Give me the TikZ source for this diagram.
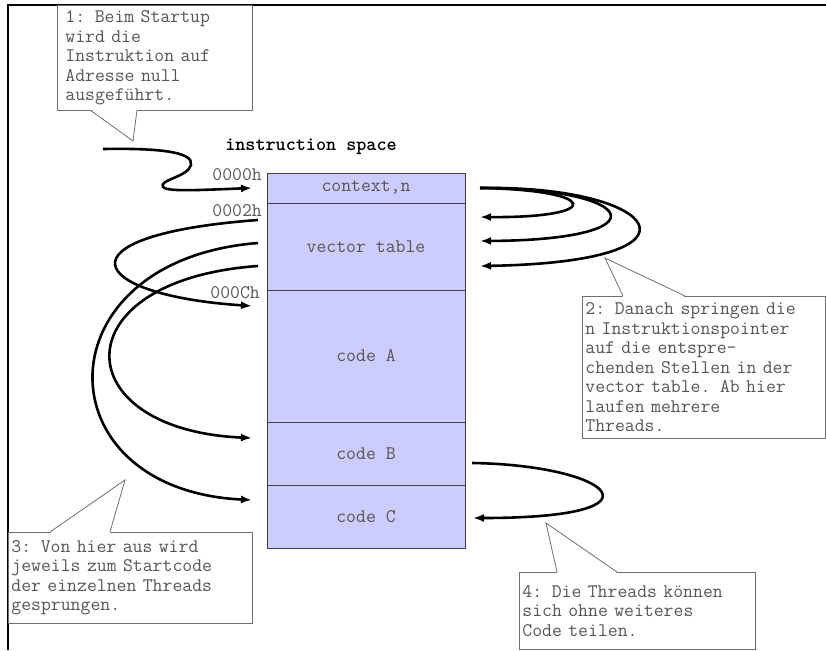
\documentclass[tikz,border=0pt]{standalone}
\usepackage{fontspec}
\usepackage{xcolor}
\definecolor{memlavender}{RGB}{204,204,255}
\definecolor{memtext}{RGB}{85,85,85}
\definecolor{memframe}{RGB}{110,110,110}
\usepackage{tikz}
\usetikzlibrary{arrows.meta, positioning, calc}

\newcommand{\memfont}{\ttfamily\fontsize{19.2}{19.5}\selectfont}
\tikzset{
  memcell/.style={draw=black!75, fill=memlavender, minimum width=198pt, inner sep=0pt, outer sep=0pt,
    text=memtext, font=\memfont},
  addr/.style={anchor=base east, inner sep=0pt, text=memtext, font=\memfont},
  note/.style={draw=memframe, line width=0.8pt, fill=white, align=left, anchor=north west, inner ysep=0pt,
    inner xsep=3pt, text=memtext, font=\memfont},
  pointer/.style={draw=memframe, line width=0.8pt},
  jump/.style={line width=2.6pt, -{Latex[length=11pt,width=8pt]}},
}

\begin{document}
\begin{tikzpicture}[x=1pt, y=-1pt]
  \useasboundingbox (0,0) rectangle (826,650);
  \draw[line width=1.2pt] (8,650) -- (8,5) -- (826,5);

  % instruction space
  \node[font=\memfont\bfseries] (title) at (311,147) {instruction space};
  \node[memcell, minimum height=30pt, anchor=north west] (ctx) at (267,173) {context,n};
  \node[memcell, minimum height=87pt, below=0pt of ctx] (vec) {vector table};
  \node[memcell, minimum height=132pt, below=0pt of vec] (codeA) {code A};
  \node[memcell, minimum height=63pt, below=0pt of codeA] (codeB) {code B};
  \node[memcell, minimum height=63pt, below=0pt of codeB] (codeC) {code C};

  \node[addr] (adr0) at (262,180) {0000h};
  \node[addr] (adr2) at (262,216) {0002h};
  \node[addr] (adrC) at (260,298) {000Ch};

  % notes
  \node[note, text width=179pt, inner xsep=8pt, minimum height=105pt] (note1) at (57,5)
    {1: Beim Startup\\wird die\\Instruktion auf\\Adresse null\\ausgeführt.};
  \node[note, text width=237pt, minimum height=142pt] (note2) at (582,296)
    {2: Danach springen die\\n Instruktionspointer\\auf die entspre-\\chenden Stellen in der\\vector table. Ab hier\\laufen mehrere\\Threads.};
  \node[note, text width=238pt, minimum height=91pt] (note3) at (8,532)
    {3: Von hier aus wird\\jeweils zum Startcode\\der einzelnen Threads\\gesprungen.};
  \node[note, text width=230pt, minimum height=77pt] (note4) at (519,572)
    {4: Die Threads können\\sich ohne weiteres\\Code teilen.};

  \coordinate (n1a) at (90,110);  \coordinate (n1b) at (137,110); \coordinate (n1tip) at (133,141);
  \coordinate (n2a) at (623,296); \coordinate (n2b) at (685,296); \coordinate (n2tip) at (605,258);
  \coordinate (n3a) at (50,532);  \coordinate (n3b) at (110,532); \coordinate (n3tip) at (125,480);
  \coordinate (n4a) at (557,572); \coordinate (n4b) at (617,572); \coordinate (n4tip) at (546,523);

  \fill[white] ($(n1a)+(0,-1)$) -- (n1tip) -- ($(n1b)+(0,-1)$) -- cycle;
  \draw[pointer] (n1a) -- (n1tip) -- (n1b);
  \foreach \n in {2,3,4} {
    \fill[white] ($(n\n a)+(0,1)$) -- (n\n tip) -- ($(n\n b)+(0,1)$) -- cycle;
    \draw[pointer] (n\n a) -- (n\n tip) -- (n\n b);
  }

  % jumps
  \coordinate (start) at (103,149);
  \draw[jump] (start) .. controls (160,148) and (194,152) .. (191,165)
    .. controls (188,177) and (158,180) .. (163,187)
    .. controls (167,192) and (200,190) .. ([xshift=-15pt]ctx.west);

  \coordinate (r0) at ($(ctx.east)+(15,0)$);
  \draw[jump] (r0) .. controls (600,190) and (605,218) .. ($(vec.east)+(15,-29.5)$);
  \draw[jump] (r0) .. controls (640,188) and (665,240) .. ($(vec.east)+(15,-5.5)$);
  \draw[jump] (r0) .. controls (660,185) and (720,262) .. ($(vec.east)+(15,19.5)$);

  \draw[jump] ($(vec.west)+(-9,-26.5)$) .. controls (55,235) and (85,295) .. ($(codeA.west)+(-15,-50)$);
  \draw[jump] ($(vec.west)+(-9,-3.5)$) .. controls (40,260) and (40,490) .. ($(codeC.west)+(-15,-16.5)$);
  \draw[jump] ($(vec.west)+(-9,19.5)$) .. controls (60,280) and (65,430) .. ($(codeB.west)+(-15,-15.5)$);

  \draw[jump] ($(codeB.east)+(7,9.5)$) .. controls (610,465) and (675,518) .. ($(codeC.east)+(8,1.5)$);
\end{tikzpicture}
\end{document}
